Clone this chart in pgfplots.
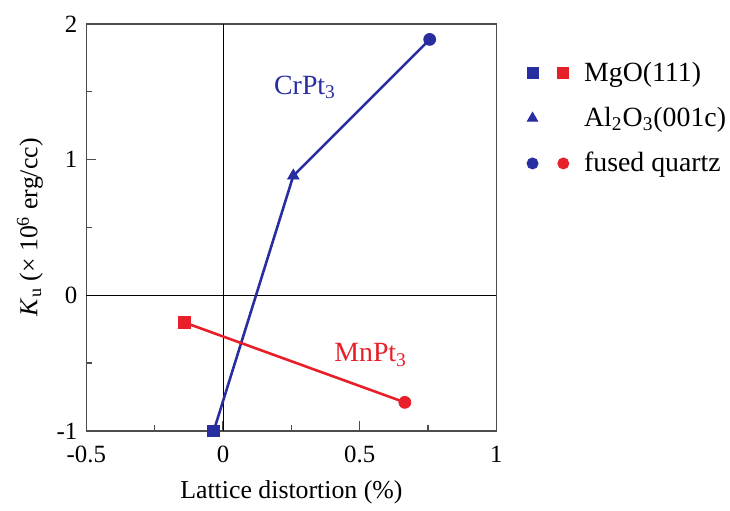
\documentclass[border=0pt]{standalone}
\usepackage{pgfplots}
\pgfplotsset{compat=1.18}
\usepackage{fontspec}
\setmainfont{Liberation Serif}
\definecolor{myblue}{RGB}{40,45,160}
\definecolor{myred}{RGB}{232,30,40}

\begin{document}
\begin{tikzpicture}
\begin{axis}[
    scale only axis,
    width=206.5pt, height=205pt,
    xmin=-0.5, xmax=1,
    ymin=-1, ymax=2,
    xtick={-0.5,0,0.5,1},
    ytick={-1,0,1,2},
    minor xtick={-0.25,0.25,0.75},
    minor ytick={-0.5,0.5,1.5},
    xticklabels={-0.5,0,0.5,1},
    yticklabels={-1,0,1,2},
    tick pos=left,
    tick align=inside,
    major tick length=5pt,
    minor tick length=3pt,
    axis line style={black!70, line width=0.7pt},
    every tick/.style={black!70, line width=0.6pt},
    tick label style={font=\fontsize{12.5}{14}\selectfont},
    xticklabel style={yshift=-4pt},
    yticklabel style={xshift=-1pt},
    xlabel={Lattice distortion (\%)},
    ylabel={\textit{K}\textsubscript{u} (\texttimes\ 10\textsuperscript{6} erg/cc)},
    label style={font=\fontsize{13}{15}\selectfont},
    xlabel style={yshift=-2pt},
    legend style={at={(1,0.878)}, anchor=north west, draw=none, fill=none,
        xshift=14pt, yshift=8pt,
        font=\fontsize{14}{16}\selectfont, row sep=7.5pt,
        inner sep=0pt,
        nodes={inner sep=2pt},
        legend cell align=left},
    clip=false,
]
% zero lines
\addplot[black, line width=0.5pt, forget plot] coordinates {(0,-1) (0,2)};
\addplot[black, line width=0.5pt, forget plot] coordinates {(-0.5,0) (1,0)};

% CrPt3
\addplot[myblue, line width=1.3pt, forget plot] coordinates {
    (-0.034,-1.0) (0.257,0.88) (0.756,1.885)};
\addplot[myblue, only marks, mark=square*, mark size=3pt, forget plot] coordinates {(-0.034,-1.0)};
\addplot[myblue, only marks, mark=triangle*, mark size=3.3pt, forget plot] coordinates {(0.257,0.88)};
\addplot[myblue, only marks, mark=*, mark size=3pt, forget plot] coordinates {(0.756,1.885)};

% MnPt3
\addplot[myred, line width=1.3pt, forget plot] coordinates {
    (-0.143,-0.2) (0.665,-0.79)};
\addplot[myred, only marks, mark=square*, mark size=3pt, forget plot] coordinates {(-0.143,-0.2)};
\addplot[myred, only marks, mark=*, mark size=3pt, forget plot] coordinates {(0.665,-0.79)};

\node[myblue, font=\fontsize{14}{16}\selectfont] at (axis cs:0.30,1.53) {CrPt\textsubscript{3}};
\node[myred, font=\fontsize{14}{16}\selectfont] at (axis cs:0.54,-0.44) {MnPt\textsubscript{3}};

% legend
\addlegendimage{legend image code/.code={
    \path[draw=none] (-4pt,0) -- (24pt,0);
    \draw[myblue, mark=square*, mark size=2.8pt] plot coordinates {(0pt,0)};
    \draw[myred, mark=square*, mark size=2.8pt] plot coordinates {(15.5pt,0)};}}
\addlegendentry{MgO(111)}
\addlegendimage{legend image code/.code={
    \path[draw=none] (-4pt,0) -- (24pt,0);
    \draw[myblue, mark=triangle*, mark size=3pt] plot coordinates {(0pt,0)};}}
\addlegendentry{Al\textsubscript{2}O\textsubscript{3}(001c)}
\addlegendimage{legend image code/.code={
    \path[draw=none] (-4pt,0) -- (24pt,0);
    \draw[myblue, mark=*, mark size=2.8pt] plot coordinates {(0pt,0)};
    \draw[myred, mark=*, mark size=2.8pt] plot coordinates {(15.5pt,0)};}}
\addlegendentry{fused quartz}
\end{axis}
\path (current axis.south west) ++(-43.5pt,-36.5pt) coordinate (bbsw);
\path (current axis.north east) ++(115pt,12pt) coordinate (bbne);
\useasboundingbox (bbsw) rectangle (bbne);
\end{tikzpicture}
\end{document}
